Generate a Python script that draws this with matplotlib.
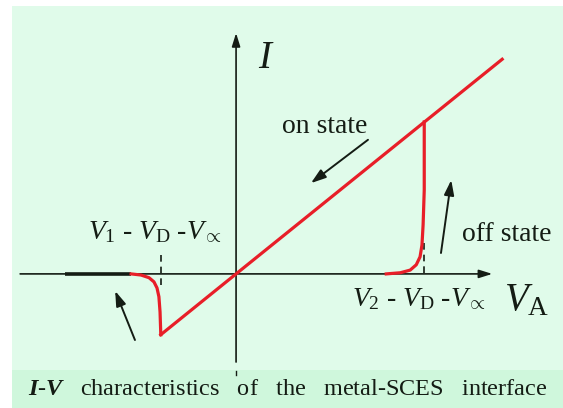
import numpy as np
import matplotlib
matplotlib.use("Agg")
import matplotlib.pyplot as plt
from matplotlib.patches import Rectangle

plt.rcParams['font.family'] = ['Liberation Serif', 'DejaVu Serif']
plt.rcParams['mathtext.fontset'] = 'custom'
plt.rcParams['mathtext.rm'] = 'Liberation Serif'
plt.rcParams['mathtext.it'] = 'Liberation Serif:italic'
plt.rcParams['mathtext.bf'] = 'Liberation Serif:bold'
plt.rcParams['mathtext.bfit'] = 'Liberation Serif:italic:bold'

# schematic I-V data (arbitrary units)
V1 = -1.98
V2 = 4.95

# on state: ohmic branch through the origin
on_V = [V1, 0.0, 7.0]
on_I = [-1.6, 0.0, 5.65]

# off state, positive bias: current switches on near V2
off_pos_V = [3.95, 4.32, 4.58, 4.74, 4.84, 4.89, 4.92, 4.95, 4.95]
off_pos_I = [0.0, 0.03, 0.1, 0.24, 0.45, 0.76, 1.29, 2.21, 4.0]

# negative bias: current drops back to zero near V1
off_neg_V = [V1, -2.0, -2.03, -2.08, -2.16, -2.29, -2.5, -2.76]
off_neg_I = [-1.6, -1.0, -0.6, -0.37, -0.21, -0.1, -0.03, 0.0]

# zero-current off state on the negative side
zero_V = [-4.5, -2.76]
zero_I = [0.0, 0.0]

# axis extents
va_axis = [-5.68, 6.74]
i_axis = [-2.32, 6.34]

red = '#e81e28'
ink = '#141c14'

fig = plt.figure(figsize=(5.63, 4.08), dpi=100)
fig.patch.set_facecolor('white')
ax = fig.add_axes([0, 0, 1, 1])
ax.set_xlim(-6.21, 8.6)
ax.set_ylim(-3.53, 7.21)
ax.axis('off')

# panel and caption band
ax.add_patch(Rectangle((12 / 563, 0), 1, 1 - 6 / 408, transform=ax.transAxes,
                       facecolor='#e0fbea', edgecolor='none', zorder=0))
ax.add_patch(Rectangle((12 / 563, 0), 1, 38 / 408, transform=ax.transAxes,
                       facecolor='#cff7dc', edgecolor='none', zorder=0))

# axes with arrow heads
ax.annotate('', xy=(va_axis[1], 0), xytext=(va_axis[0], 0),
            arrowprops=dict(arrowstyle='-|>,head_length=0.8,head_width=0.25',
                            color=ink, lw=1.2, shrinkA=0, shrinkB=0), zorder=2)
ax.annotate('', xy=(0, i_axis[1]), xytext=(0, i_axis[0]),
            arrowprops=dict(arrowstyle='-|>,head_length=0.8,head_width=0.25',
                            color=ink, lw=1.2, shrinkA=0, shrinkB=0), zorder=2)
ax.plot([0, 0], [-2.55, -2.65], color=ink, lw=1.0, zorder=2)

# dashed markers at the switching voltages
ax.plot([V1, V1], [0.5, -0.42], color=ink, lw=1.2, ls=(0, (4, 3)), zorder=2)
ax.plot([V2, V2], [0.82, 0.0], color=ink, lw=1.2, ls=(0, (4, 3)), zorder=2)

# I-V curves
ax.plot(zero_V, zero_I, color=ink, lw=2.6, solid_capstyle='butt', zorder=3)
ax.plot(on_V, on_I, color=red, lw=2.3, zorder=4)
ax.plot(off_pos_V, off_pos_I, color=red, lw=2.3, zorder=4)
ax.plot(off_neg_V, off_neg_I, color=red, lw=2.3, zorder=4)

# sweep direction arrows
arrow_kw = dict(arrowstyle='-|>,head_length=0.9,head_width=0.3', color=ink,
                lw=1.4, shrinkA=0, shrinkB=0)
ax.annotate('', xy=(1.97, 2.39), xytext=(3.47, 3.53), arrowprops=arrow_kw, zorder=5)
ax.annotate('', xy=(5.66, 2.47), xytext=(5.39, 0.55), arrowprops=arrow_kw, zorder=5)
ax.annotate('', xy=(-3.18, -0.45), xytext=(-2.66, -1.74), arrowprops=arrow_kw, zorder=5)

# labels
ax.text(0.79, 5.68, r'$I$', fontsize=28, ha='center', va='center', color=ink)
ax.text(7.63, -0.72, r'$V_{\mathrm{A}}$', fontsize=28, ha='center', va='center', color=ink)
ax.text(2.34, 3.89, 'on state', fontsize=20, ha='center', va='center', color=ink)
ax.text(7.13, 1.05, 'off state', fontsize=20, ha='center', va='center', color=ink)
ax.text(-2.13, 1.1, r'$V_{\mathit{1}}$ - $V_{\mathrm{D}}$ -$V_{\propto}$',
        fontsize=20, ha='center', va='center', color=ink)
ax.text(4.82, -0.68, r'$V_{\mathit{2}}$ - $V_{\mathrm{D}}$ -$V_{\propto}$',
        fontsize=20, ha='center', va='center', color=ink)

ax.text(1.35, -3.03,
        r'$\mathbfit{I}$-$\mathbfit{V}$   characteristics   of   the   metal-SCES   interface',
        fontsize=17.5, ha='center', va='center', color=ink)

fig.savefig('out.png', dpi=100, facecolor=fig.get_facecolor())
